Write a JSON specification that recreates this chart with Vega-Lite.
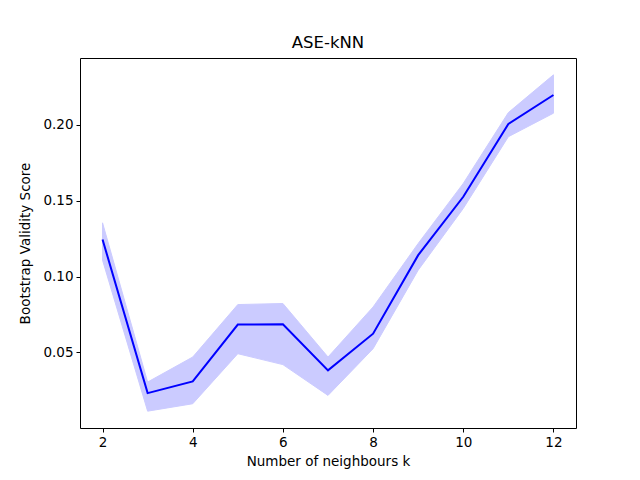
{
  "$schema": "https://vega.github.io/schema/vega-lite/v6.json",
  "autosize": "none",
  "width": 496,
  "height": 370,
  "padding": {"left": 80, "top": 58, "right": 64, "bottom": 52},
  "background": "white",
  "title": {"text": "ASE-kNN", "fontSize": 16.5, "fontWeight": "normal", "font": "DejaVu Sans", "color": "black", "offset": 7},
  "config": {
    "view": {"stroke": "black", "strokeWidth": 1},
    "axis": {"grid": false, "domain": false, "tickColor": "black", "tickSize": 4, "labelFont": "DejaVu Sans", "labelFontSize": 13.5, "labelColor": "black", "titleFont": "DejaVu Sans", "titleFontSize": 13.5, "titleFontWeight": "normal", "titleColor": "black", "labelPadding": 3}
  },
  "data": {"values": [
    {"k": 2, "score": 0.1244, "lo": 0.1108, "hi": 0.1354},
    {"k": 3, "score": 0.0231, "lo": 0.0112, "hi": 0.0304},
    {"k": 4, "score": 0.0308, "lo": 0.0161, "hi": 0.0469},
    {"k": 5, "score": 0.0683, "lo": 0.0491, "hi": 0.0815},
    {"k": 6, "score": 0.0685, "lo": 0.0419, "hi": 0.0822},
    {"k": 7, "score": 0.0381, "lo": 0.0216, "hi": 0.0469},
    {"k": 8, "score": 0.0623, "lo": 0.0524, "hi": 0.0799},
    {"k": 9, "score": 0.1141, "lo": 0.1042, "hi": 0.1218},
    {"k": 10, "score": 0.1526, "lo": 0.1449, "hi": 0.1614},
    {"k": 11, "score": 0.2006, "lo": 0.1922, "hi": 0.2081},
    {"k": 12, "score": 0.2197, "lo": 0.2077, "hi": 0.2330}
  ]},
  "layer": [
    {
      "mark": {"type": "area", "color": "#0000ff", "opacity": 0.2, "stroke": "#0000ff", "strokeWidth": 1},
      "encoding": {
        "x": {"field": "k", "type": "quantitative", "scale": {"domain": [1.5, 12.5], "nice": false, "zero": false}, "axis": {"values": [2, 4, 6, 8, 10, 12], "title": "Number of neighbours k", "titlePadding": 6}},
        "y": {"field": "lo", "type": "quantitative", "scale": {"domain": [0.0001, 0.2441], "nice": false, "zero": false}, "axis": {"values": [0.05, 0.1, 0.15, 0.2], "format": ".2f", "title": "Bootstrap Validity Score", "titlePadding": 10}},
        "y2": {"field": "hi"}
      }
    },
    {
      "mark": {"type": "line", "color": "#0000ff", "strokeWidth": 2},
      "encoding": {
        "x": {"field": "k", "type": "quantitative"},
        "y": {"field": "score", "type": "quantitative"}
      }
    }
  ]
}
